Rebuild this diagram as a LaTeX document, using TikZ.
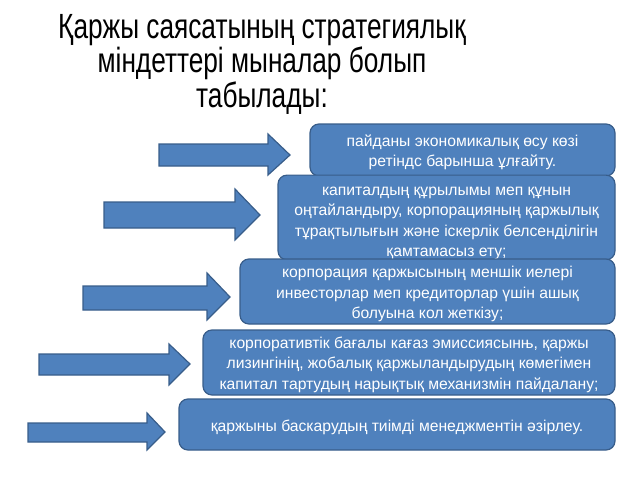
\documentclass[tikz,border=0pt]{standalone}
\usepackage{fontspec}
\setmainfont{Liberation Sans}
\newfontfamily\titlefont[FakeStretch=0.75]{Liberation Sans}
\usetikzlibrary{positioning}

\definecolor{taskfill}{HTML}{4F81BD}
\definecolor{taskline}{HTML}{385D8A}

\tikzset{
  taskbox/.style={draw=taskline, line width=1.2pt, fill=taskfill, rounded corners=9pt,
    text=white, align=center, inner sep=0pt,
    font=\fontsize{15.7}{20.5}\selectfont},
  blockarrow/.style={draw=taskline, line width=1.2pt, fill=taskfill, line join=miter}
}

\begin{document}
\begin{tikzpicture}[x=1pt,y=1pt]
\useasboundingbox (0,0) rectangle (640,-480);
% title
\node (title) at (262,-64) [align=center, font=\titlefont\fontsize{35}{34.5}\selectfont]
  {Қаржы саясатының стратегиялық\\міндеттері мыналар болып\\табылады:};
% boxes (the \rule pushes the text a little below the middle)
\node (goal1) at (462.5,-150) [taskbox, minimum width=305pt, minimum height=52pt]
  {\rule{0pt}{16pt}пайданы экономикалық өсу көзі\\ретіндс барынша ұлғайту.};
\node (goal2) at (446.5,-217.5) [taskbox, minimum width=337pt, minimum height=75pt]
  {\rule{0pt}{20pt}капиталдың құрылымы меп құнын\\оңтайландыру, корпорацияның қаржылық\\тұрақтылығын және іскерлік белсенділігін\\қамтамасыз ету;};
\node (goal3) at (427.5,-291.5) [taskbox, minimum width=375pt, minimum height=65pt]
  {\rule{0pt}{17pt}корпорация қаржысының меншік иелері\\инвесторлар меп кредиторлар үшін ашық\\болуына кол жеткізу;};
\node (goal4) at (409,-362.5) [taskbox, minimum width=412pt, minimum height=65pt]
  {\rule{0pt}{16pt}корпоративтік бағалы кағаз эмиссиясынњ, қаржы\\лизингінің, жобалық қаржыландырудың көмегімен\\капитал тартудың нарықтық механизмін пайдалану;};
\node (goal5) at (397,-424.5) [taskbox, minimum width=436pt, minimum height=51pt]
  {\rule{0pt}{18pt}қаржыны баскарудың тиімді менеджментін әзірлеу.};
% arrows
\draw [blockarrow] (159,-144) -- (268,-144) -- (268,-134) -- (290,-155) -- (268,-175) -- (268,-166) -- (159,-166) -- cycle;
\draw [blockarrow] (104,-202) -- (235,-202) -- (235,-189) -- (260,-215) -- (235,-240) -- (235,-228) -- (104,-228) -- cycle;
\draw [blockarrow] (83,-286) -- (207,-286) -- (207,-273) -- (230,-297) -- (207,-320) -- (207,-310) -- (83,-310) -- cycle;
\draw [blockarrow] (39,-354) -- (169,-354) -- (169,-344) -- (190,-364) -- (169,-385) -- (169,-375) -- (39,-375) -- cycle;
\draw [blockarrow] (28,-423) -- (147,-423) -- (147,-413) -- (165,-432) -- (147,-450) -- (147,-442) -- (28,-442) -- cycle;
\end{tikzpicture}
\end{document}
